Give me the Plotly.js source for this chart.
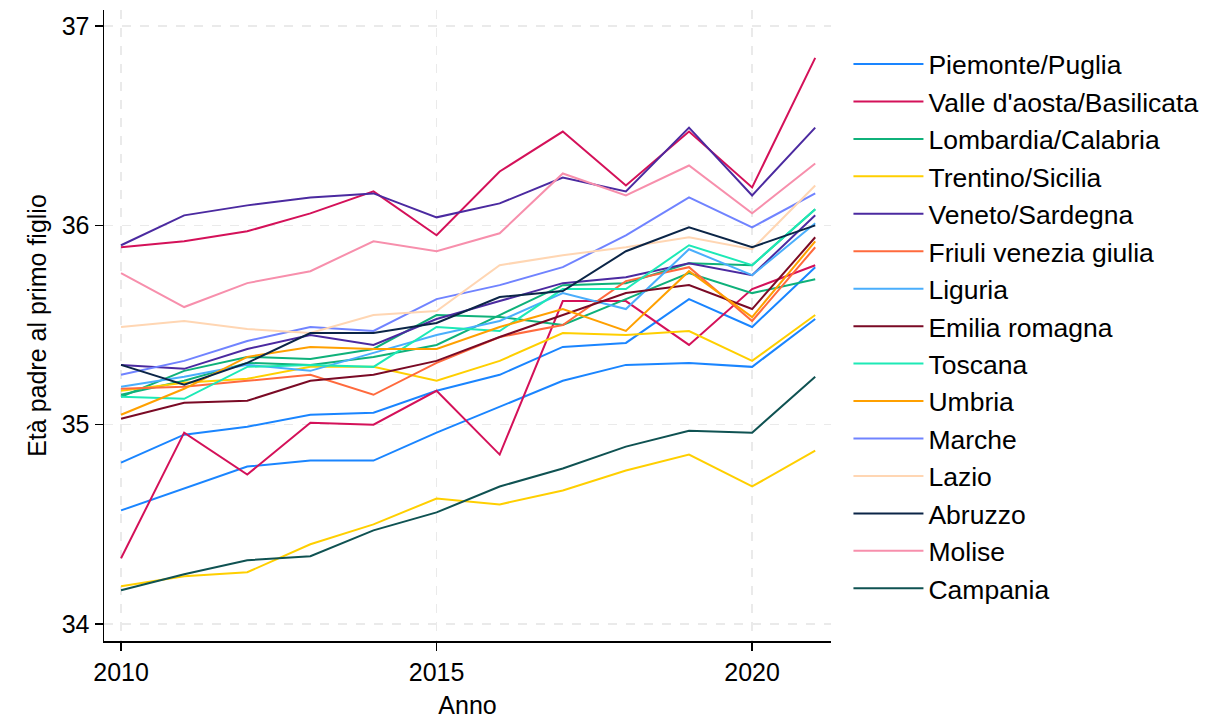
<!DOCTYPE html>
<html>
<head>
<meta charset="utf-8">
<script src="https://cdn.plot.ly/plotly-3.0.1.min.js"></script>
<style>html,body{margin:0;padding:0;background:#fff;}#chart{width:1215px;height:719px;}</style>
</head>
<body>
<div id="chart"></div>
<script>
const years = [2010, 2011, 2012, 2013, 2014, 2015, 2016, 2017, 2018, 2019, 2020, 2021];

const piemonte   = [34.81, 34.95, 34.99, 35.05, 35.06, 35.17, 35.25, 35.39, 35.41, 35.63, 35.49, 35.79];
const puglia     = [34.57, 34.68, 34.79, 34.82, 34.82, 34.96, 35.09, 35.22, 35.30, 35.31, 35.29, 35.53];
const valle      = [35.89, 35.92, 35.97, 36.06, 36.17, 35.95, 36.27, 36.47, 36.20, 36.47, 36.19, 36.84];
const basilicata = [34.33, 34.96, 34.75, 35.01, 35.00, 35.17, 34.85, 35.62, 35.62, 35.40, 35.68, 35.80];
const lombardia  = [35.15, 35.22, 35.31, 35.30, 35.34, 35.40, 35.55, 35.70, 35.71, 35.81, 35.80, 36.08];
const calabria   = [35.14, 35.27, 35.34, 35.33, 35.38, 35.55, 35.54, 35.50, 35.63, 35.76, 35.66, 35.73];
const trentino   = [35.17, 35.21, 35.23, 35.29, 35.29, 35.22, 35.32, 35.46, 35.45, 35.47, 35.32, 35.55];
const sicilia    = [34.19, 34.24, 34.26, 34.40, 34.50, 34.63, 34.60, 34.67, 34.77, 34.85, 34.69, 34.87];
const veneto     = [35.30, 35.28, 35.38, 35.45, 35.40, 35.53, 35.62, 35.71, 35.74, 35.81, 35.75, 36.05];
const sardegna   = [35.90, 36.05, 36.10, 36.14, 36.16, 36.04, 36.11, 36.24, 36.17, 36.49, 36.15, 36.49];
const friuli     = [35.18, 35.19, 35.22, 35.25, 35.15, 35.31, 35.44, 35.50, 35.72, 35.79, 35.52, 35.89];
const liguria    = [35.19, 35.24, 35.30, 35.27, 35.36, 35.45, 35.52, 35.66, 35.58, 35.88, 35.75, 36.01];
const emilia     = [35.03, 35.11, 35.12, 35.22, 35.25, 35.32, 35.44, 35.55, 35.66, 35.70, 35.58, 35.94];
const toscana    = [35.14, 35.13, 35.29, 35.30, 35.29, 35.49, 35.47, 35.68, 35.68, 35.90, 35.80, 36.08];
const umbria     = [35.05, 35.18, 35.34, 35.39, 35.38, 35.38, 35.49, 35.58, 35.47, 35.77, 35.54, 35.92];
const marche     = [35.25, 35.32, 35.42, 35.49, 35.47, 35.63, 35.70, 35.79, 35.95, 36.14, 35.99, 36.16];
const lazio      = [35.49, 35.52, 35.48, 35.46, 35.55, 35.57, 35.80, 35.85, 35.89, 35.94, 35.88, 36.20];
const abruzzo    = [35.30, 35.20, 35.31, 35.46, 35.46, 35.51, 35.64, 35.67, 35.87, 35.99, 35.89, 36.00];
const molise     = [35.76, 35.59, 35.71, 35.77, 35.92, 35.87, 35.96, 36.26, 36.15, 36.30, 36.06, 36.31];
const campania   = [34.17, 34.25, 34.32, 34.34, 34.47, 34.56, 34.69, 34.78, 34.89, 34.97, 34.96, 35.24];

const legendNames = ["Piemonte/Puglia", "Valle d'aosta/Basilicata", "Lombardia/Calabria", "Trentino/Sicilia",
  "Veneto/Sardegna", "Friuli venezia giulia", "Liguria", "Emilia romagna", "Toscana", "Umbria",
  "Marche", "Lazio", "Abruzzo", "Molise", "Campania"];
const groupSeries = [[piemonte, puglia], [valle, basilicata], [lombardia, calabria], [trentino, sicilia],
  [veneto, sardegna], [friuli], [liguria], [emilia], [toscana], [umbria], [marche], [lazio], [abruzzo], [molise], [campania]];
const colors = ["#1a85ff", "#d41159", "#0fb17a", "#ffcf00", "#4b2aa0", "#ff6a3d", "#4aaefc", "#7a0a25",
  "#1de9b6", "#ffa000", "#7083ff", "#ffd6b3", "#0b2547", "#f78fac", "#0f5252"];

const traces = [];
groupSeries.forEach((arr, gi) => {
  arr.forEach((ys, k) => {
    traces.push({
      x: years, y: ys, type: 'scatter', mode: 'lines',
      name: legendNames[gi], legendgroup: 'g' + gi, showlegend: k === 0,
      line: {color: colors[gi], width: 2}, hoverinfo: 'x+y+name'
    });
  });
});

const font = {family: '"Liberation Sans", Arial, Helvetica, sans-serif', size: 25, color: '#000'};
const legendFont = {family: '"Liberation Sans", Arial, Helvetica, sans-serif', size: 26.5, color: '#000'};
const layout = {
  width: 1215, height: 719,
  margin: {l: 104, r: 384, t: 10, b: 78},
  paper_bgcolor: '#fff', plot_bgcolor: '#fff',
  font: font,
  showlegend: true,
  legend: {x: 1.024, xanchor: 'left', y: 0.952, yanchor: 'top', font: legendFont,
    tracegroupgap: 0, itemwidth: 70, bgcolor: 'rgba(0,0,0,0)'},
  xaxis: {
    range: [2009.73, 2021.25], tickvals: [2010, 2015, 2020], ticktext: ['2010', '2015', '2020'],
    showline: true, linecolor: '#000', linewidth: 1.5, mirror: false,
    ticks: 'outside', ticklen: 8, tickwidth: 1.5, tickcolor: '#000',
    showgrid: true, gridcolor: '#eaeaea', gridwidth: 1.5, griddash: 'dash',
    zeroline: false, tickfont: font,
    title: {text: 'Anno', font: font, standoff: 12}
  },
  yaxis: {
    range: [33.915, 37.08], tickvals: [34, 35, 36, 37],
    showline: true, linecolor: '#000', linewidth: 1.5, mirror: false,
    ticks: 'outside', ticklen: 8, tickwidth: 1.5, tickcolor: '#000',
    showgrid: true, gridcolor: '#eaeaea', gridwidth: 1.5, griddash: 'dash',
    zeroline: false, tickfont: font,
    title: {text: 'Età padre al primo figlio', font: font, standoff: 8}
  }
};
Plotly.newPlot('chart', traces, layout, {displayModeBar: false, staticPlot: true});
</script>
</body>
</html>
